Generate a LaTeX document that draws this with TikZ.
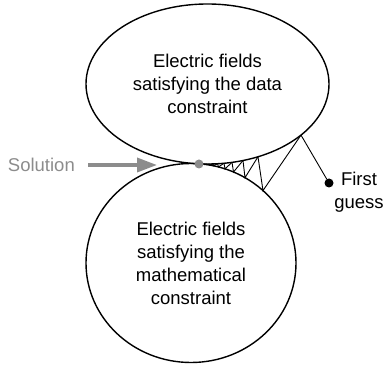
\documentclass[tikz,border=0pt]{standalone}
\usepackage{fontspec}
\setmainfont{Liberation Sans}
\usetikzlibrary{shapes.geometric, arrows.meta, calc}
\definecolor{sol-gray}{HTML}{8C8C8C}

\begin{document}
\begin{tikzpicture}[x=1pt, y=1pt,
      every node/.style={font=\fontsize{18.5}{23}\selectfont},
      setshape/.style={ellipse, draw, line width=1.4pt, inner sep=0pt, outer sep=0pt, align=center},
      zigline/.style={line width=0.9pt},
      dotmark/.style={circle, inner sep=0pt, outer sep=0pt, minimum size=9pt}]
    \useasboundingbox (0,0) rectangle (385,364);
    % ---- the two constraint sets
    \node[setshape, minimum width=243, minimum height=160] (data) at (207.5,280)
      {Electric fields\\satisfying the data\\constraint};
    \node[setshape, minimum width=210, minimum height=199] (math) at (191,101)
      {Electric fields\\satisfying the\\mathematical\\constraint};
    % ---- first guess
    \node[dotmark, fill=black] (guess) at (329,181) {};
    \node[align=center] (guesslabel) at (359,172) {First\\guess};
    % ---- alternating projections
    \foreach \k/\dt/\db in {1/102/64, 2/59/46, 3/44/34.5, 4/33/26, 5/25/19.4,
                            6/18.6/14.6, 7/14/11, 8/10.5/8.2, 9/7.9/6.2, 10/5.9/4.6}{
      \pgfmathsetmacro\at{-acos((199+\dt-207.5)/121.5)}
      \pgfmathsetmacro\ab{acos((199+\db-191)/105)}
      \coordinate (t\k) at ($(data.center)+(\at:121.5 and 80)$);
      \coordinate (b\k) at ($(math.center)+(\ab:105 and 99.5)$);
    }
    \draw[zigline] (guess) -- (t1);
    \foreach \k [evaluate=\k as \n using int(\k+1)] in {1,...,9}{
      \draw[zigline] (t\k) -- (b\k) -- (t\n);
    }
    \draw[zigline] (t10) -- (b10);
    % ---- solution
    \node[dotmark, fill=sol-gray] (sol) at (199,200) {};
    \node[text=sol-gray, anchor=east, inner sep=0pt] (sollabel) at (75,199) {Solution};
    \coordinate (soltip) at (157,199);
    \draw[sol-gray, line width=3.5pt, -{Triangle[length=20pt, width=14pt]}]
      ([xshift=13pt]sollabel.east) -- (soltip);
  \end{tikzpicture}
\end{document}
